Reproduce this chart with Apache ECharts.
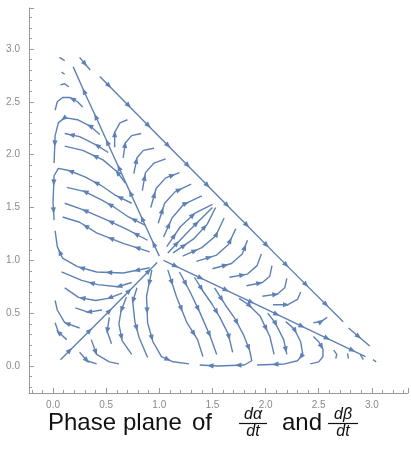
<!DOCTYPE html>
<html>
<head>
<meta charset="utf-8">
<title>Phase plane</title>
<script src="https://cdn.jsdelivr.net/npm/echarts@6/dist/echarts.min.js"></script>
<style>
  html, body { margin: 0; padding: 0; background: #fff; }
  #chart { width: 411px; height: 455px; }
</style>
</head>
<body>
<div id="chart"></div>
<script>
// plot window (alpha on x, beta on y)
const xRange = [-0.226, 3.34];
const yRange = [-0.255, 3.387];

// streamlines, each one a list of [alpha, beta] in flow order
const hypotenuse = [
  [[0.25, 2.92], [0.35, 2.80]],
  [[0.44, 2.74], [1.00, 2.17], [1.60, 1.56], [2.20, 0.95], [2.73, 0.42]],
  [[2.78, 0.36], [2.98, 0.19]],
  [[3.01, 0.06], [3.04, 0.04]]
];
const diagonal = [
  [[0.07, 0.06], [0.50, 0.49], [0.98, 0.98]]
];
const separatrixUp = [
  [[1.00, 1.04], [0.85, 1.37], [0.70, 1.70], [0.55, 2.03], [0.42, 2.32], [0.30, 2.58], [0.19, 2.83]]
];
const separatrixDown = [
  [[1.04, 1.00], [1.50, 0.78], [2.00, 0.54], [2.50, 0.30], [2.94, 0.09]]
];

// left sector: out of the saddle towards alpha = 0
const sectorLeft = [
  [[0.15, 2.64], [0.11, 2.67], [0.07, 2.66]],
  [[0.11, 2.76], [0.08, 2.78]],
  [[0.11, 2.89], [0.06, 2.92]],
  [[0.28, 2.45], [0.23, 2.50], [0.16, 2.54], [0.09, 2.54], [0.04, 2.50], [0.02, 2.42]],
  [[0.44, 2.19], [0.35, 2.27], [0.23, 2.33], [0.11, 2.35], [0.05, 2.30], [0.02, 2.18], [0.01, 1.92]],
  [[0.52, 2.02], [0.41, 2.09], [0.25, 2.17], [0.11, 2.20]],
  [[0.68, 1.73], [0.60, 1.84], [0.47, 1.95], [0.28, 2.04], [0.11, 2.08]],
  [[0.74, 1.54], [0.58, 1.62], [0.45, 1.71], [0.30, 1.79], [0.15, 1.85], [0.05, 1.87], [0.01, 1.80], [0.00, 1.55], [0.01, 1.38]],
  [[0.87, 1.33], [0.71, 1.41], [0.58, 1.50], [0.46, 1.57], [0.30, 1.65], [0.13, 1.69]],
  [[0.89, 1.19], [0.70, 1.29], [0.51, 1.38], [0.28, 1.48], [0.11, 1.54]],
  [[0.91, 1.08], [0.66, 1.16], [0.41, 1.26], [0.25, 1.36], [0.09, 1.41]],
  [[0.91, 0.93], [0.66, 0.88], [0.41, 0.89], [0.23, 0.94], [0.09, 1.02], [0.04, 1.13], [0.02, 1.28]],
  [[0.74, 0.79], [0.61, 0.75], [0.42, 0.77], [0.27, 0.81], [0.08, 0.89]],
  [[0.65, 0.69], [0.52, 0.64], [0.40, 0.62], [0.24, 0.65], [0.11, 0.74]],
  [[0.46, 0.53], [0.33, 0.51], [0.21, 0.55]],
  [[0.25, 0.36], [0.11, 0.41], [0.04, 0.53], [0.02, 0.62]],
  [[0.13, 0.25], [0.05, 0.32], [0.02, 0.41]]
];

// upper sector: arcs rising towards the hypotenuse
const sectorTop = [
  [[0.58, 2.07], [0.58, 2.21], [0.63, 2.30], [0.70, 2.33]],
  [[0.66, 1.97], [0.68, 2.11], [0.74, 2.18], [0.83, 2.20]],
  [[0.76, 1.82], [0.79, 1.97], [0.85, 2.04], [0.95, 2.06]],
  [[0.84, 1.66], [0.87, 1.83], [0.95, 1.92], [1.06, 1.96]],
  [[0.92, 1.50], [0.97, 1.68], [1.06, 1.78], [1.19, 1.83]],
  [[0.99, 1.35], [1.05, 1.54], [1.15, 1.65], [1.30, 1.72]],
  [[1.04, 1.22], [1.12, 1.40], [1.23, 1.53], [1.40, 1.61]],
  [[1.07, 1.13], [1.20, 1.32], [1.34, 1.45], [1.50, 1.53]],
  [[1.08, 1.07], [1.28, 1.28], [1.50, 1.50]]
];

// right sector: arcs bending up towards the hypotenuse
const sectorRight = [
  [[1.13, 1.07], [1.32, 1.20], [1.45, 1.34], [1.53, 1.50]],
  [[1.22, 1.04], [1.40, 1.12], [1.53, 1.23], [1.61, 1.40]],
  [[1.35, 0.99], [1.54, 1.05], [1.65, 1.15], [1.72, 1.30]],
  [[1.50, 0.92], [1.68, 0.97], [1.78, 1.06], [1.83, 1.19]],
  [[1.66, 0.84], [1.83, 0.87], [1.92, 0.95], [1.96, 1.06]],
  [[1.82, 0.76], [1.97, 0.79], [2.04, 0.85], [2.06, 0.95]],
  [[1.97, 0.66], [2.11, 0.68], [2.18, 0.74], [2.20, 0.83]],
  [[2.07, 0.58], [2.21, 0.58], [2.30, 0.63], [2.33, 0.70]],
  [[2.45, 0.41], [2.52, 0.42], [2.58, 0.46]]
];

// lower sector: out of the saddle towards beta = 0
const sectorBottom = [
  [[2.64, 0.15], [2.67, 0.11], [2.66, 0.07]],
  [[2.77, 0.12], [2.78, 0.07]],
  [[2.89, 0.11], [2.92, 0.06]],
  [[2.45, 0.28], [2.50, 0.23], [2.54, 0.16], [2.54, 0.09], [2.50, 0.04], [2.42, 0.02]],
  [[2.19, 0.42], [2.27, 0.35], [2.33, 0.23], [2.35, 0.11], [2.30, 0.05], [2.18, 0.02], [1.92, 0.01]],
  [[2.02, 0.50], [2.09, 0.41], [2.17, 0.25], [2.20, 0.11]],
  [[1.75, 0.64], [1.84, 0.58], [1.95, 0.47], [2.04, 0.28], [2.08, 0.11]],
  [[1.52, 0.74], [1.62, 0.58], [1.71, 0.45], [1.79, 0.30], [1.85, 0.15], [1.87, 0.05], [1.80, 0.01], [1.55, 0.00], [1.38, 0.01]],
  [[1.33, 0.84], [1.41, 0.71], [1.50, 0.58], [1.57, 0.46], [1.65, 0.30], [1.69, 0.13]],
  [[1.19, 0.89], [1.29, 0.70], [1.38, 0.51], [1.48, 0.28], [1.54, 0.11]],
  [[1.08, 0.91], [1.16, 0.66], [1.26, 0.41], [1.36, 0.25], [1.41, 0.09]],
  [[0.93, 0.91], [0.88, 0.66], [0.89, 0.41], [0.94, 0.23], [1.02, 0.09], [1.13, 0.04], [1.28, 0.02]],
  [[0.79, 0.74], [0.75, 0.61], [0.77, 0.42], [0.81, 0.27], [0.89, 0.08]],
  [[0.69, 0.65], [0.64, 0.52], [0.62, 0.40], [0.65, 0.24], [0.74, 0.11]],
  [[0.53, 0.46], [0.51, 0.33], [0.55, 0.21]],
  [[0.36, 0.25], [0.41, 0.11], [0.53, 0.04], [0.62, 0.02]],
  [[0.25, 0.13], [0.32, 0.05], [0.41, 0.02]]
];

const streams = [].concat(hypotenuse, diagonal, separatrixUp, separatrixDown,
  sectorLeft, sectorTop, sectorRight, sectorBottom);

const LINE = '#5e81b5';
const AXIS = '#9a9a9a';
const LABEL = '#8a8a8a';
const ARROW_GAP = 28;   // px between arrowheads
const ARROW_FIRST = 13; // px from the start of a line

// polyline + arrowheads for one streamline, in pixel space
function renderStream(params, api) {
  const pts = streams[api.value(0)].map(p => api.coord(p));
  const children = [{
    type: 'polyline',
    shape: { points: pts },
    style: { stroke: LINE, lineWidth: 1.4, fill: null, lineJoin: 'round' },
    silent: true
  }];

  const seg = [];
  let total = 0;
  for (let i = 1; i < pts.length; i++) {
    const len = Math.hypot(pts[i][0] - pts[i - 1][0], pts[i][1] - pts[i - 1][1]);
    seg.push(len);
    total += len;
  }
  let marks = [];
  if (total >= 10 && total < ARROW_FIRST * 2) marks = [total / 2];
  else for (let s = ARROW_FIRST; s < total - 5; s += ARROW_GAP) marks.push(s);

  marks.forEach(s => {
    let i = 0;
    while (i < seg.length - 1 && s > seg[i]) { s -= seg[i]; i++; }
    const a = pts[i], b = pts[i + 1];
    const ux = (b[0] - a[0]) / seg[i], uy = (b[1] - a[1]) / seg[i];
    const cx = a[0] + ux * s, cy = a[1] + uy * s;
    children.push({
      type: 'polygon',
      shape: { points: [
        [cx + ux * 3.5, cy + uy * 3.5],
        [cx - ux * 3 - uy * 2.6, cy - uy * 3 + ux * 2.6],
        [cx - ux * 3 + uy * 2.6, cy - uy * 3 - ux * 2.6]
      ] },
      style: { fill: LINE },
      silent: true
    });
  });
  return { type: 'group', children };
}

const axisCommon = {
  type: 'value',
  splitNumber: 7,
  axisLine: { show: true, onZero: false, lineStyle: { color: AXIS, width: 1 } },
  axisTick: { show: true, inside: true, length: 5, lineStyle: { color: AXIS } },
  minorTick: { show: true, splitNumber: 5, length: 3, lineStyle: { color: AXIS } },
  splitLine: { show: false },
  minorSplitLine: { show: false }
};

const titleFont = { fontSize: 24, fontFamily: 'Liberation Sans', fill: '#111', verticalAlign: 'middle' };
const fracFont = { fontSize: 16, fontStyle: 'italic', fontFamily: 'Liberation Sans', fill: '#111', align: 'center', verticalAlign: 'middle' };
const TITLE_Y = 423;

const chart = echarts.init(document.getElementById('chart'), null, { renderer: 'canvas' });
chart.setOption({
  animation: false,
  backgroundColor: '#fff',
  grid: { left: 29, right: 3, top: 8, bottom: 62 },
  xAxis: Object.assign({}, axisCommon, {
    min: xRange[0], max: xRange[1],
    axisLabel: { color: LABEL, fontSize: 10, fontFamily: 'Liberation Sans', margin: 7,
      showMinLabel: false, showMaxLabel: false, formatter: v => v.toFixed(1) }
  }),
  yAxis: Object.assign({}, axisCommon, {
    min: yRange[0], max: yRange[1],
    axisLabel: { color: LABEL, fontSize: 10, fontFamily: 'Liberation Sans', margin: 9,
      showMinLabel: false, showMaxLabel: false, formatter: v => v.toFixed(1) }
  }),
  series: [{
    type: 'custom',
    coordinateSystem: 'cartesian2d',
    renderItem: renderStream,
    data: streams.map((s, i) => [i]),
    encode: { x: -1, y: -1 },
    clip: true,
    silent: true
  }],
  graphic: [
    { type: 'text', x: 48, y: TITLE_Y, style: Object.assign({ text: 'Phase' }, titleFont) },
    { type: 'text', x: 123, y: TITLE_Y, style: Object.assign({ text: 'plane' }, titleFont) },
    { type: 'text', x: 192, y: TITLE_Y, style: Object.assign({ text: 'of' }, titleFont) },
    { type: 'text', x: 253, y: TITLE_Y - 8, style: Object.assign({ text: 'dα' }, fracFont) },
    { type: 'line', shape: { x1: 239, y1: TITLE_Y + 0.5, x2: 267, y2: TITLE_Y + 0.5 }, style: { stroke: '#111', lineWidth: 1.2 } },
    { type: 'text', x: 253, y: TITLE_Y + 9, style: Object.assign({ text: 'dt' }, fracFont) },
    { type: 'text', x: 282, y: TITLE_Y, style: Object.assign({ text: 'and' }, titleFont) },
    { type: 'text', x: 343, y: TITLE_Y - 8, style: Object.assign({ text: 'dβ' }, fracFont) },
    { type: 'line', shape: { x1: 328, y1: TITLE_Y + 0.5, x2: 358, y2: TITLE_Y + 0.5 }, style: { stroke: '#111', lineWidth: 1.2 } },
    { type: 'text', x: 343, y: TITLE_Y + 9, style: Object.assign({ text: 'dt' }, fracFont) }
  ]
});
</script>
</body>
</html>
